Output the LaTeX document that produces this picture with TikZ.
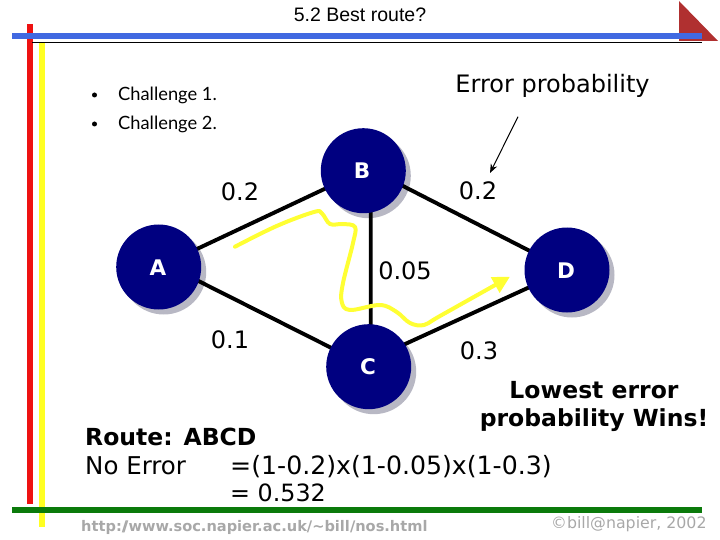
\documentclass[tikz,border=0pt]{standalone}
\usepackage{fontspec}
\setmainfont{DejaVu Sans}
\newfontfamily\ttl{Liberation Sans}
\newfontfamily\gill{Lato}
\usetikzlibrary{arrows.meta,backgrounds}
\definecolor{nodeblue}{HTML}{000080}
\definecolor{shadowgrey}{HTML}{B8B8C4}
\definecolor{barblue}{HTML}{4169E1}
\definecolor{barred}{HTML}{EE1111}
\definecolor{baryellow}{HTML}{FFFF22}
\definecolor{bargreen}{HTML}{0B7A0B}
\definecolor{corner}{HTML}{B03030}
\definecolor{routeyellow}{HTML}{FFFF33}
\definecolor{foot}{HTML}{A8A8A8}
\tikzset{
  router/.style={circle,fill=nodeblue,minimum size=85,inner sep=0,outer sep=0},
  rlabel/.style={anchor=base,inner sep=0,text=white,font=\fontsize{21.5}{21.5}\selectfont\bfseries},
  edge/.style={line width=3.9,black},
  lbl/.style={anchor=base,inner sep=0,font=\fontsize{24}{24}\selectfont},
  txt/.style={anchor=base west,inner sep=0,font=\fontsize{24.5}{24.5}\selectfont},
  boldtxt/.style={inner sep=0,font=\fontsize{23.5}{23.5}\selectfont\bfseries},
  bulletxt/.style={anchor=base west,inner sep=0,font=\fontsize{18.3}{18.3}\selectfont\gill},
  footer/.style={anchor=base west,inner sep=0,text=foot},
}
\begin{document}
\begin{tikzpicture}[x=1pt,y=-1pt]
\useasboundingbox (0,0) rectangle (720,540);
% frame
\fill[corner] (679,1) -- (679,41) -- (718,41) -- cycle;
\fill[baryellow] (38.5,43) rectangle (45,527);
\fill[barred] (27,24) rectangle (33,504);
\fill[barblue] (12,33) rectangle (702,39);
\draw[line width=0.8] (32,42) -- (702,42);
\fill[bargreen] (12,507) rectangle (702,513);
% title
\node[anchor=base,inner sep=0,font=\fontsize{19.5}{19.5}\selectfont\ttl] (title) at (360,22) {5.2 Best route?};
% bullets
\node[circle,fill=black,minimum size=5,inner sep=0] (b1) at (94.5,95) {};
\node[bulletxt] (c1) at (118,100.7) {Challenge 1.};
\node[circle,fill=black,minimum size=5,inner sep=0] (b2) at (94.5,124) {};
\node[bulletxt] (c2) at (118,129.5) {Challenge 2.};
% routers
\node[router] (A) at (158.7,267) {};
\node[router] (B) at (363.3,170.7) {};
\node[router] (C) at (368.7,366.7) {};
\node[router] (D) at (567,270) {};
\node[rlabel] (tA) at (158,275) {A};
\node[rlabel] (tB) at (362,179) {B};
\node[rlabel] (tC) at (368,374) {C};
\node[rlabel] (tD) at (566,278) {D};
\begin{pgfonlayer}{background}
\fill[shadowgrey] ([shift={(5,5)}]A.center) circle (42.5);
\fill[shadowgrey] ([shift={(5,5)}]B.center) circle (42.5);
\fill[shadowgrey] ([shift={(5,5)}]C.center) circle (42.5);
\fill[shadowgrey] ([shift={(5,5)}]D.center) circle (42.5);
\draw[edge] (A.center) -- (B.center);
\draw[edge] ([yshift=6]A.center) -- (C.center);
\draw[edge] ([yshift=5]B.center) -- (D.center);
\draw[edge] ([yshift=6]C.center) -- (D.center);
\draw[edge] ([xshift=7.5]B.center) -- ([xshift=2]C.center);
\end{pgfonlayer}
% labels
\node[lbl] (l1) at (240,200.5) {0.2};
\node[lbl] (l2) at (478,199.5) {0.2};
\node[lbl] (l3) at (405,279) {0.05};
\node[lbl] (l4) at (230,348.7) {0.1};
\node[lbl] (l5) at (479,359) {0.3};
\node[lbl] (err) at (552.5,92.7) {Error probability};
\coordinate (e1) at (518,116.7);
\coordinate (e2) at (490,173);
\draw[line width=1,-{Stealth[length=9,width=7]}] (e1) -- (e2);
% yellow route
\draw[routeyellow,line width=4,line cap=round,line join=round,-{Triangle[length=17,width=17]}]
 plot[smooth,tension=0.6] coordinates {(235,246.7) (276.7,226) (314,212) (322,213.5) (330,224) (343,224) (355,227) (353,243) (343,283) (341.7,301.7) (350,310) (380,305) (396.7,312) (410,323) (424,325) (440,316) (510,276.7)};
% text
\node[boldtxt,anchor=base] (w1) at (594,398) {Lowest error};
\node[boldtxt,anchor=base] (w2) at (594,426.7) {probability Wins!};
\node[boldtxt,anchor=base west] (r1) at (85,445) {Route: ABCD};
\node[txt] (r2) at (85,474) {No Error};
\node[txt,font=\fontsize{25.2}{25.2}\selectfont] (r3) at (230,474) {=(1-0.2)x(1-0.05)x(1-0.3)};
\node[txt,font=\fontsize{23.8}{23.8}\selectfont] (r4) at (230,501.7) {= 0.532};
\node[footer,font=\fontsize{14.6}{14.6}\selectfont\bfseries] (url) at (81,531) {http:/\kern-4pt/www.soc.napier.ac.uk/\char`\~bill/nos.html};
\node[footer,font=\fontsize{15.8}{15.8}\selectfont] (copy) at (551,528) {©bill@napier, 2002};
\end{tikzpicture}
\end{document}
